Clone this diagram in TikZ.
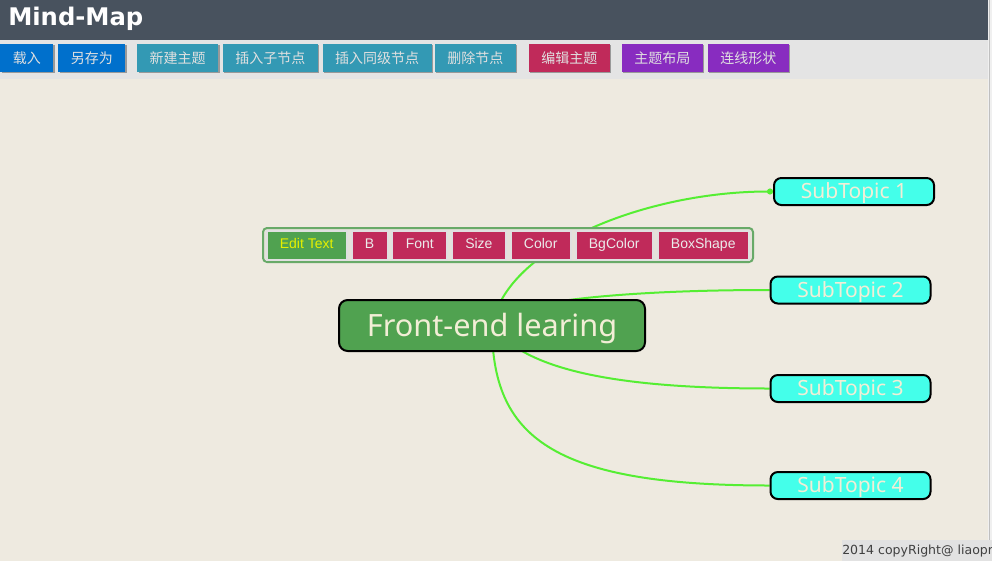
\documentclass[tikz,border=0pt]{standalone}
\usepackage{fontspec}
\setmainfont{Noto Sans}
\newfontfamily\titlefont{DejaVu Sans}
\newfontfamily\cnfont{Noto Sans CJK SC}
\newfontfamily\arialfont{Liberation Sans}
\usetikzlibrary{arrows.meta, calc, positioning, backgrounds, shadows}
\definecolor{headgray}{RGB}{72,82,94}
\definecolor{barlight}{RGB}{228,228,228}
\definecolor{canvasbeige}{RGB}{238,234,224}
\definecolor{stripgray}{RGB}{240,240,240}
\definecolor{footgray}{RGB}{226,226,226}
\definecolor{btnblue}{RGB}{0,112,204}
\definecolor{btnteal}{RGB}{51,153,180}
\definecolor{btnred}{RGB}{192,42,90}
\definecolor{btnpurple}{RGB}{136,44,192}
\definecolor{topicgreen}{RGB}{80,162,80}
\definecolor{subcyan}{RGB}{68,255,234}
\definecolor{linkgreen}{RGB}{85,238,51}
\definecolor{textcream}{RGB}{242,238,214}
\definecolor{edityellow}{RGB}{230,240,0}
\definecolor{barborder}{RGB}{104,170,104}
\definecolor{barfill}{RGB}{228,226,218}

\begin{document}
\begin{tikzpicture}[x=0.75pt, y=-0.75pt,
    tbbtn/.style={font=\cnfont\fontsize{10.5}{12}\selectfont, text=white!88!black,
        inner xsep=9.4pt, inner ysep=0pt, minimum height=21.3pt,
        drop shadow={shadow xshift=1.1pt, shadow yshift=-1.1pt, fill=black!40, opacity=1}},
    editbtn/.style={font=\arialfont\fontsize{10.5}{12}\selectfont, text=white!92!black,
        fill=btnred, draw=black!12, line width=1.5pt, inner xsep=10pt, inner ysep=0pt,
        text height=7.6pt, text depth=2pt, minimum height=21.75pt},
    topic/.style={draw=black, line width=1.5pt, fill=topicgreen, rounded corners=6.5pt,
        minimum width=229.5pt, minimum height=38.25pt, inner sep=0pt, text=textcream,
        text height=17pt, text depth=1.2pt, font=\fontsize{23}{26}\selectfont},
    subtopic/.style={draw=black, line width=1.5pt, fill=subcyan, rounded corners=5.5pt,
        minimum width=120pt, minimum height=20.25pt, inner sep=0pt, text=textcream,
        text height=11.8pt, text depth=0.6pt, font=\fontsize{15.75}{18}\selectfont},
    link/.style={linkgreen, line width=1.5pt}]
    \useasboundingbox (0,0) rectangle (992,561);

    % Title
    \node (title) [anchor=base west, inner sep=0pt, text=white,
        font=\titlefont\bfseries\fontsize{18.2}{22}\selectfont] at (8,25) {Mind-Map};

    % Main toolbar
    \node (load) [tbbtn, fill=btnblue, anchor=north west] at (0,43.3) {载入};
    \node (saveas) [tbbtn, fill=btnblue, right=3.3pt of load] {另存为};
    \node (newtopic) [tbbtn, fill=btnteal, right=8.5pt of saveas] {新建主题};
    \node (addchild) [tbbtn, fill=btnteal, right=3pt of newtopic] {插入子节点};
    \node (addsibling) [tbbtn, fill=btnteal, right=3.2pt of addchild] {插入同级节点};
    \node (delnode) [tbbtn, fill=btnteal, right=2pt of addsibling] {删除节点};
    \node (edittopic) [tbbtn, fill=btnred, right=9.2pt of delnode] {编辑主题};
    \node (layout) [tbbtn, fill=btnpurple, right=8.5pt of edittopic] {主题布局};
    \node (linkshape) [tbbtn, fill=btnpurple, right=3.3pt of layout] {连线形状};

    % Topics
    \node (root) [topic] at (492,325.5) {Front-end learing};
    \node (sub1) [subtopic] at (854,191.5) {SubTopic 1};
    \node (sub2) [subtopic] at (850.5,290) {SubTopic 2};
    \node (sub3) [subtopic] at (850.5,388.5) {SubTopic 3};
    \node (sub4) [subtopic] at (850.5,485.5) {SubTopic 4};

    % Edit toolbar
    \node (editbar) [draw=barborder, line width=1.5pt, fill=barfill, rounded corners=3pt,
        minimum width=367.5pt, minimum height=25.5pt, inner sep=0pt] at (508,245) {};
    \node (edittext) [editbtn, fill=topicgreen, text=edityellow, anchor=west] at (265.5,245) {Edit Text};
    \node (bold) [editbtn, right=2.1pt of edittext] {B};
    \node (font) [editbtn, right=2.1pt of bold] {Font};
    \node (size) [editbtn, right=2.1pt of font] {Size};
    \node (color) [editbtn, right=2.1pt of size] {Color};
    \node (bgcolor) [editbtn, right=2.1pt of color] {BgColor};
    \node (boxshape) [editbtn, right=2.1pt of bgcolor] {BoxShape};

    % Footer
    \node (copyright) [anchor=north west, fill=footgray, inner xsep=0pt, inner ysep=0pt,
        minimum height=15.75pt, text=black!75,
        font=\titlefont\fontsize{9.4}{11}\selectfont] at (842,540) {2014 copyRight@ liaopr};

    % Page and links, behind the nodes
    \begin{scope}[on background layer]
        \fill[headgray] (0,0) rectangle (988,40);
        \fill[barlight] (0,40) rectangle (988,79);
        \fill[canvasbeige] (0,79) rectangle (988,561);
        \fill[stripgray] (988,0) rectangle (992,561);
        \draw[black!25] (989.5,0) -- (989.5,561);
        \draw[link, -{Circle[length=4.5pt]}] (root.center) .. controls +(15,-80) and +(-125,0) .. (sub1.west);
        \draw[link] (root.center) .. controls +(0,-20) and +(-170,0) .. (sub2.west);
        \draw[link] (root.center) .. controls +(30,40) and +(-170,0) .. (sub3.west);
        \draw[link] (root.center) .. controls +(0,110) and +(-220,0) .. (sub4.west);
    \end{scope}
\end{tikzpicture}
\end{document}
